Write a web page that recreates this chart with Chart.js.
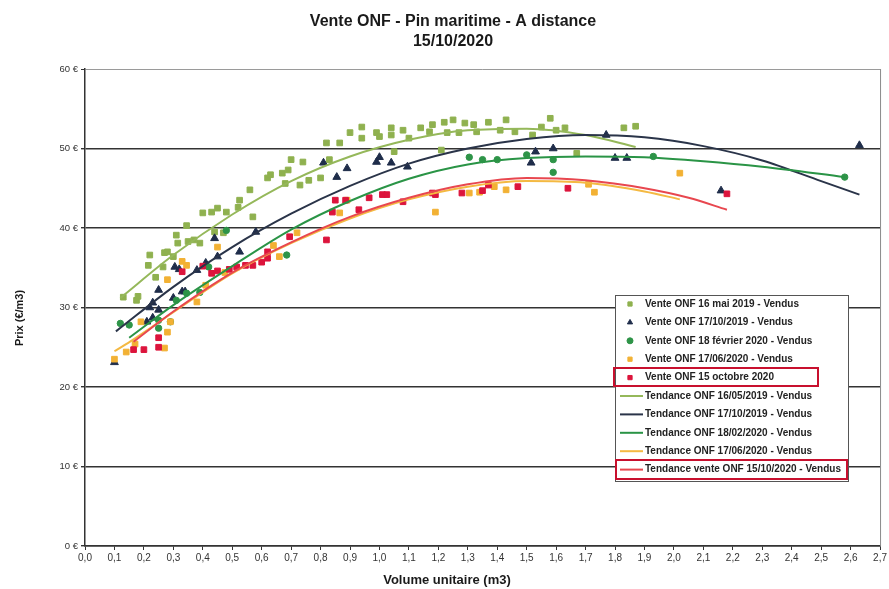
<!DOCTYPE html>
<html>
<head>
<meta charset="utf-8">
<script src="https://cdn.jsdelivr.net/npm/chart.js@4.4.0/dist/chart.umd.min.js"></script>
<style>
  html, body { margin: 0; padding: 0; background: #fff; }
  #wrap { width: 889px; height: 589px; }
</style>
</head>
<body>
<div id="wrap"><canvas id="prix"></canvas></div>
<script>
/* globals Chart:false */
'use strict'

// Points de vente (volume unitaire m3 / prix €/m3)
const vol1905 = [0.13, 0.175, 0.18, 0.215, 0.22, 0.24, 0.265, 0.27, 0.28, 0.30, 0.31, 0.315, 0.345, 0.35, 0.37, 0.39, 0.40, 0.43, 0.44, 0.45, 0.47, 0.48, 0.52, 0.525, 0.56, 0.57, 0.62, 0.63, 0.67, 0.68, 0.69, 0.70, 0.73, 0.74, 0.76, 0.80, 0.82, 0.83, 0.865, 0.90, 0.94, 0.94, 0.99, 1.0, 1.04, 1.04, 1.05, 1.08, 1.10, 1.14, 1.17, 1.18, 1.21, 1.22, 1.23, 1.25, 1.27, 1.29, 1.32, 1.33, 1.37, 1.41, 1.43, 1.46, 1.52, 1.55, 1.58, 1.60, 1.63, 1.67, 1.83, 1.87]
const prix1905 = [31.3, 30.9, 31.4, 35.3, 36.6, 33.8, 35.1, 36.9, 37.0, 36.4, 39.1, 38.1, 40.3, 38.3, 38.5, 38.1, 41.9, 42.0, 39.5, 42.5, 39.4, 42.0, 42.6, 43.5, 44.8, 41.4, 46.3, 46.7, 46.9, 45.6, 47.3, 48.6, 45.4, 48.3, 46.0, 46.3, 50.7, 48.6, 50.7, 52.0, 52.7, 51.3, 52.0, 51.5, 52.6, 51.7, 49.6, 52.3, 51.3, 52.6, 52.1, 53.0, 49.8, 53.3, 52.0, 53.6, 52.0, 53.2, 53.0, 52.1, 53.3, 52.3, 53.6, 52.1, 51.7, 52.7, 53.8, 52.3, 52.6, 49.4, 52.6, 52.8]

const vol1910 = [0.10, 0.21, 0.22, 0.23, 0.23, 0.25, 0.25, 0.30, 0.305, 0.32, 0.33, 0.34, 0.38, 0.41, 0.44, 0.45, 0.525, 0.58, 0.81, 0.855, 0.89, 0.99, 1.0, 1.04, 1.095, 1.515, 1.53, 1.59, 1.77, 1.80, 1.84, 2.16, 2.63]
const prix1910 = [23.1, 28.2, 30.0, 30.6, 28.7, 29.7, 32.2, 31.2, 35.1, 34.8, 32.0, 32.0, 34.7, 35.6, 38.7, 36.4, 37.0, 39.5, 48.2, 46.4, 47.5, 48.3, 48.9, 48.2, 47.7, 48.2, 49.6, 50.0, 51.7, 48.8, 48.8, 44.7, 50.4]

const vol2002 = [0.12, 0.15, 0.25, 0.25, 0.29, 0.31, 0.345, 0.39, 0.42, 0.48, 0.685, 1.305, 1.35, 1.40, 1.50, 1.59, 1.59, 1.93, 2.58]
const prix2002 = [28.0, 27.8, 27.4, 28.4, 28.2, 30.9, 31.8, 31.9, 35.1, 39.7, 36.6, 48.9, 48.6, 48.6, 49.2, 48.6, 47.0, 49.0, 46.4]

const vol2006 = [0.10, 0.14, 0.17, 0.19, 0.27, 0.28, 0.28, 0.29, 0.33, 0.345, 0.38, 0.41, 0.45, 0.475, 0.64, 0.66, 0.72, 0.865, 0.89, 1.19, 1.305, 1.34, 1.39, 1.43, 1.71, 1.73, 2.02]
const prix2006 = [23.5, 24.4, 25.4, 28.2, 24.9, 26.9, 33.5, 28.2, 35.8, 35.3, 30.7, 32.8, 37.6, 34.4, 37.8, 36.4, 39.4, 41.9, 43.5, 42.0, 44.4, 44.5, 45.2, 44.8, 45.5, 44.5, 46.9]

const vol2010 = [0.165, 0.20, 0.25, 0.25, 0.33, 0.40, 0.43, 0.45, 0.49, 0.515, 0.545, 0.57, 0.60, 0.62, 0.62, 0.695, 0.82, 0.84, 0.85, 0.885, 0.93, 0.965, 1.01, 1.025, 1.08, 1.18, 1.19, 1.28, 1.35, 1.37, 1.47, 1.64, 2.18]
const prix2010 = [24.7, 24.7, 26.2, 25.0, 34.5, 35.2, 34.3, 34.6, 34.8, 35.1, 35.3, 35.3, 35.7, 36.2, 37.0, 38.9, 38.5, 42.0, 43.5, 43.5, 42.3, 43.8, 44.2, 44.2, 43.3, 44.4, 44.2, 44.4, 44.7, 45.4, 45.2, 45.0, 44.3]

// Courbes de tendance
const tendVol1905 = [0.12, 0.3, 0.5, 0.7, 0.9, 1.1, 1.3, 1.5, 1.7, 1.87]
const tendPrix1905 = [31.2, 36.6, 41.7, 45.9, 49.0, 51.1, 52.3, 52.5, 51.7, 50.2]
const tendVol1910 = [0.105, 0.3, 0.5, 0.7, 0.9, 1.1, 1.3, 1.5, 1.7, 1.9, 2.1, 2.3, 2.5, 2.63]
const tendPrix1910 = [27.0, 32.6, 37.6, 41.8, 45.3, 48.1, 50.0, 51.2, 51.7, 51.4, 50.3, 48.5, 45.9, 44.2]
const tendVol2002 = [0.15, 0.3, 0.5, 0.7, 0.9, 1.1, 1.3, 1.5, 1.7, 1.9, 2.1, 2.3, 2.58]
const tendPrix2002 = [26.2, 30.3, 35.2, 39.8, 43.4, 46.2, 48.0, 48.8, 49.0, 48.9, 48.4, 47.7, 46.4]
const tendVol2006 = [0.10, 0.165, 0.3, 0.5, 0.7, 0.9, 1.1, 1.3, 1.5, 1.7, 1.9, 2.02]
const tendPrix2006 = [24.5, 26.0, 29.4, 34.3, 38.1, 41.2, 43.6, 45.2, 45.9, 45.7, 44.6, 43.6]
const tendVol2010 = [0.165, 0.3, 0.5, 0.7, 0.9, 1.1, 1.3, 1.5, 1.7, 1.9, 2.05, 2.18]
const tendPrix2010 = [25.7, 29.5, 34.4, 38.2, 41.4, 43.8, 45.5, 46.3, 46.0, 45.0, 43.8, 42.3]

const yTicks = [0, 10, 20, 30, 40, 50, 60]

const pts = (xs, ys) => xs.map((x, i) => ({ x: x, y: ys[i] }))
const FONT = '"Liberation Sans", Arial, sans-serif'

const scatterSet = (label, xs, ys, color, style, radius, order) => ({
  label: label,
  data: pts(xs, ys),
  showLine: false,
  pointStyle: style,
  pointRadius: radius,
  pointBackgroundColor: color,
  pointBorderColor: color,
  pointBorderWidth: 1,
  order: order
})

const trendSet = (label, xs, ys, color, order) => ({
  label: label,
  data: pts(xs, ys),
  showLine: true,
  borderColor: color,
  backgroundColor: color,
  borderWidth: 2,
  pointRadius: 0,
  cubicInterpolationMode: 'monotone',
  fill: false,
  order: order
})

// Titres, cadre droit et légende
const decor = {
  id: 'decor',
  afterDraw(chart) {
    const { ctx, chartArea: a } = chart
    ctx.save()

    ctx.strokeStyle = '#8a8a8a'
    ctx.lineWidth = 1
    ctx.beginPath()
    ctx.moveTo(a.right + 0.5, a.top)
    ctx.lineTo(a.right + 0.5, a.bottom)
    ctx.stroke()

    ctx.fillStyle = '#1a1a1a'
    ctx.textAlign = 'center'
    ctx.textBaseline = 'middle'
    ctx.font = 'bold 16px ' + FONT
    ctx.fillText('Vente ONF - Pin maritime - A distance', 453, 22)
    ctx.fillText('15/10/2020', 453, 42)

    ctx.font = 'bold 13px ' + FONT
    ctx.fillText('Volume unitaire (m3)', 447, 580)

    ctx.save()
    ctx.translate(20, 318)
    ctx.rotate(-Math.PI / 2)
    ctx.font = 'bold 11px ' + FONT
    ctx.fillText('Prix (€/m3)', 0, 0)
    ctx.restore()

    // légende
    const lx = 615, ly = 295, lw = 233, lh = 186
    ctx.fillStyle = '#fff'
    ctx.fillRect(lx, ly, lw, lh)
    ctx.strokeStyle = '#555'
    ctx.lineWidth = 1
    ctx.strokeRect(lx + 0.5, ly + 0.5, lw, lh)

    ctx.font = 'bold 10px ' + FONT
    ctx.textAlign = 'left'
    chart.data.datasets.forEach((ds, i) => {
      const y = 304 + i * 18.4
      if (ds.showLine) {
        ctx.strokeStyle = ds.borderColor
        ctx.lineWidth = 2
        ctx.beginPath()
        ctx.moveTo(620, y)
        ctx.lineTo(643, y)
        ctx.stroke()
      } else {
        ctx.fillStyle = ds.pointBackgroundColor
        ctx.strokeStyle = ds.pointBorderColor
        ctx.lineWidth = 1
        Chart.helpers.drawPoint(ctx, { pointStyle: ds.pointStyle, radius: 3, rotation: 0, borderWidth: 1 }, 630, y)
      }
      ctx.fillStyle = '#222'
      ctx.fillText(ds.label, 645, y)
    })

    ctx.strokeStyle = '#c8102e'
    ctx.lineWidth = 2
    ctx.strokeRect(614, 368, 204, 18)
    ctx.strokeRect(616, 460, 231, 19)

    ctx.restore()
  }
}

const prix = document.getElementById('prix')
// eslint-disable-next-line no-unused-vars
const prixChart = new Chart(prix, {
  type: 'scatter',
  data: {
    datasets: [
      scatterSet('Vente ONF 16 mai 2019 - Vendus', vol1905, prix1905, '#8fb14f', 'rect', 4, 10),
      scatterSet('Vente ONF 17/10/2019 - Vendus', vol1910, prix1910, '#1f2d4a', 'triangle', 4.5, 9),
      scatterSet('Vente ONF 18 février 2020 - Vendus', vol2002, prix2002, '#2e9448', 'circle', 3.2, 8),
      scatterSet('Vente ONF 17/06/2020 - Vendus', vol2006, prix2006, '#f2b134', 'rect', 4, 7),
      scatterSet('Vente ONF 15 octobre 2020', vol2010, prix2010, '#dc143c', 'rect', 4, 6),
      trendSet('Tendance ONF 16/05/2019 - Vendus', tendVol1905, tendPrix1905, '#95b85a', 5),
      trendSet('Tendance ONF 17/10/2019 - Vendus', tendVol1910, tendPrix1910, '#2a3449', 4),
      trendSet('Tendance ONF 18/02/2020 - Vendus', tendVol2002, tendPrix2002, '#2a9446', 3),
      trendSet('Tendance ONF 17/06/2020 - Vendus', tendVol2006, tendPrix2006, '#f4b942', 2),
      trendSet('Tendance vente ONF 15/10/2020 - Vendus', tendVol2010, tendPrix2010, '#e8474f', 1)
    ]
  },
  options: {
    responsive: true,
    maintainAspectRatio: false,
    animation: false,
    layout: {
      padding: { left: 25, right: 8, top: 69, bottom: 23 }
    },
    plugins: {
      legend: { display: false },
      title: { display: false },
      tooltip: { enabled: false }
    },
    scales: {
      x: {
        type: 'linear',
        min: 0,
        max: 2.7,
        afterFit: (scale) => { scale.height = 20 },
        ticks: {
          stepSize: 0.1,
          maxTicksLimit: 40,
          autoSkip: false,
          maxRotation: 0,
          padding: 2,
          color: '#333',
          font: { family: FONT, size: 10 },
          callback: (v) => v.toFixed(1).replace('.', ',')
        },
        grid: {
          drawOnChartArea: false,
          drawTicks: true,
          tickLength: 4,
          tickColor: '#333'
        },
        border: { display: true, color: '#333', width: 1.5 }
      },
      y: {
        min: 0,
        max: 60,
        afterFit: (scale) => { scale.width = 60 },
        afterBuildTicks: (scale) => { scale.ticks = yTicks.map(v => ({ value: v })) },
        ticks: {
          padding: 3,
          color: '#333',
          font: { family: FONT, size: 9.5 },
          callback: (v) => v + ' €'
        },
        grid: {
          color: (c) => (c.tick && c.tick.value === 60 ? '#9a9a9a' : '#333'),
          lineWidth: (c) => (c.tick && c.tick.value === 60 ? 1 : 1.4),
          tickLength: 4,
          tickColor: '#333'
        },
        border: { display: true, color: '#333', width: 1.5 }
      }
    }
  },
  plugins: [decor]
})
</script>
</body>
</html>
